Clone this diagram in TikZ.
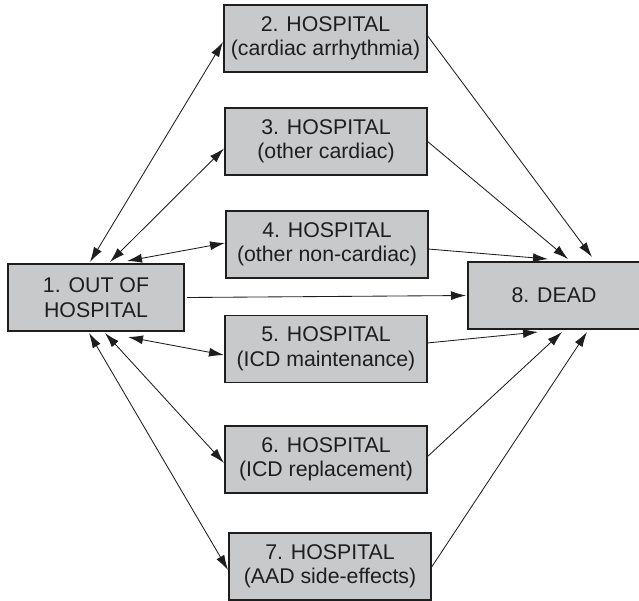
\documentclass[tikz,border=0pt]{standalone}
\usepackage{fontspec}
\setmainfont{Liberation Sans}
\usetikzlibrary{arrows.meta}
\definecolor{boxfill}{RGB}{200,201,203}
\definecolor{ink}{RGB}{30,30,30}
\begin{document}
\begin{tikzpicture}[x=1pt,y=-1pt,
  box/.style={draw=ink,fill=boxfill,line width=1.1pt,inner sep=0pt,outer sep=0pt,
    minimum height=67pt,align=center,text=ink,font=\fontsize{21.3}{24.5}\selectfont},
  conn/.style={draw=ink,line width=0.85pt,-{Latex[length=15pt,width=9pt]}},
  both/.style={draw=ink,line width=0.85pt,{Latex[length=15pt,width=9pt]}-{Latex[length=15pt,width=9pt]}}]
\useasboundingbox (0,0) rectangle (639,600);
\node[box,minimum width=176pt] (b1) at (96,297.5) {1. OUT OF\\HOSPITAL};
\node[box,minimum width=203pt] (b2) at (325.5,38.5) {2. HOSPITAL\\(cardiac arrhythmia)};
\node[box,minimum width=202pt] (b3) at (326,141.5) {3. HOSPITAL\\(other cardiac)};
\node[box,minimum width=202pt] (b4) at (327,244.5) {4. HOSPITAL\\(other non-cardiac)};
\node[box,minimum width=202pt] (b5) at (326,349) {5. HOSPITAL\\(ICD maintenance)};
\node[box,minimum width=202pt] (b6) at (326,459.5) {6. HOSPITAL\\(ICD replacement)};
\node[box,minimum width=202pt] (b7) at (330,566.5) {7. HOSPITAL\\(AAD side-effects)};
\node[box,minimum width=172pt] (b8) at (554,295.5) {8. DEAD};
% endpoints near box 1
\coordinate (t2) at (90,262);
\coordinate (t3) at (110,262);
\coordinate (t4) at (127,261);
\coordinate (u7) at (89,333);
\coordinate (u6) at (105,333);
\coordinate (u5) at (128,337);
% endpoints near box 8
\coordinate (d2) at (592,257);
\coordinate (d3) at (568,259);
\coordinate (d4) at (548,259);
\coordinate (d5) at (538,332);
\coordinate (d6) at (562,332);
\coordinate (d7) at (587,332);
% left connectors
\draw[both] ([shift={(-1,3.5)}]b2.west) -- (t2);
\draw[both] ([shift={(-1,7)}]b3.west) -- (t3);
\draw[both] ([shift={(-1,-1.5)}]b4.west) -- (t4);
\draw[both] ([shift={(-1,6)}]b5.west) -- (u5);
\draw[both] ([shift={(-1,3.5)}]b6.west) -- (u6);
\draw[both] ([shift={(-1,3.5)}]b7.west) -- (u7);
\draw[conn] ([xshift=3pt]b1.east) -- ([xshift=-2pt]b8.west);
% right connectors
\draw[conn] ([yshift=3.5pt]b2.east) -- (d2);
\draw[conn] ([yshift=0.5pt]b3.east) -- (d3);
\draw[conn] ([yshift=-4.5pt]b4.east) -- (d4);
\draw[conn] ([yshift=6pt]b5.east) -- (d5);
\draw[conn] ([yshift=2.5pt]b6.east) -- (d6);
\draw[conn] ([yshift=-1.5pt]b7.east) -- (d7);
\end{tikzpicture}
\end{document}
